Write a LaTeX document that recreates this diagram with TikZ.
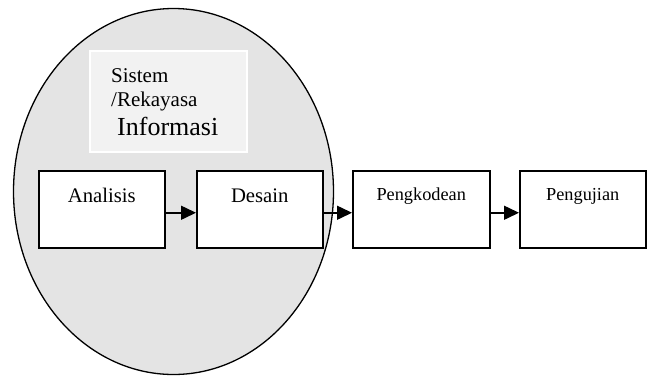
\documentclass[tikz,border=0pt]{standalone}
\usepackage{fontspec}
\setmainfont{Liberation Serif}
\usetikzlibrary{arrows.meta,positioning,shapes.geometric}
\usepackage{xcolor}
\definecolor{scopegray}{RGB}{228,228,228}
\definecolor{panelgray}{RGB}{242,242,242}

\begin{document}
\begin{tikzpicture}[
    x=1pt, y=-1pt,
    node distance=28.5pt,
    box/.style={draw, line width=1.5pt, fill=white, minimum width=126pt, minimum height=77pt, inner sep=0pt, text height=14pt, text depth=27.6pt, font=\fontsize{20.7}{24}\selectfont},
    smallbox/.style={box, text depth=32.4pt, font=\fontsize{18.3}{22}\selectfont},
    infotext/.style={anchor=base west, inner sep=0pt, font=\fontsize{21}{25}\selectfont},
    arrow/.style={-{Triangle[length=15pt,width=14pt]}, line width=1.5pt}
  ]
    \useasboundingbox (0,0) rectangle (649,376);

    \node[ellipse, draw, line width=1.3pt, fill=scopegray, minimum width=320pt, minimum height=366pt, inner sep=0pt] (lingkup) at (173.5,191.5) {};
    \node[draw=white, line width=1.5pt, fill=panelgray, minimum width=157pt, minimum height=101pt, inner sep=0pt] (panel) at (168.5,101.5) {};
    \node[infotext] (sistem) at (111,82.7) {Sistem};
    \node[infotext] (rekayasa) at (111,106.7) {/Rekayasa};
    \node[infotext, font=\fontsize{26}{30}\selectfont] (informasi) at (117,135) {Informasi};

    \node[box, anchor=north west] (analisis) at (38,170) {Analisis};
    \node[box, right=30.5pt of analisis] (desain) {Desain};
    \node[smallbox, right=of desain, minimum width=137pt] (pengkodean) {Pengkodean};
    \node[smallbox, right=of pengkodean] (pengujian) {Pengujian};

    \draw[arrow] ([yshift=-3.5pt]analisis.east) -- ([yshift=-3.5pt]desain.west);
    \draw[arrow] ([yshift=-3.5pt]desain.east) -- ([yshift=-3.5pt]pengkodean.west);
    \draw[arrow] ([yshift=-3.5pt]pengkodean.east) -- ([yshift=-3.5pt]pengujian.west);
  \end{tikzpicture}
\end{document}
